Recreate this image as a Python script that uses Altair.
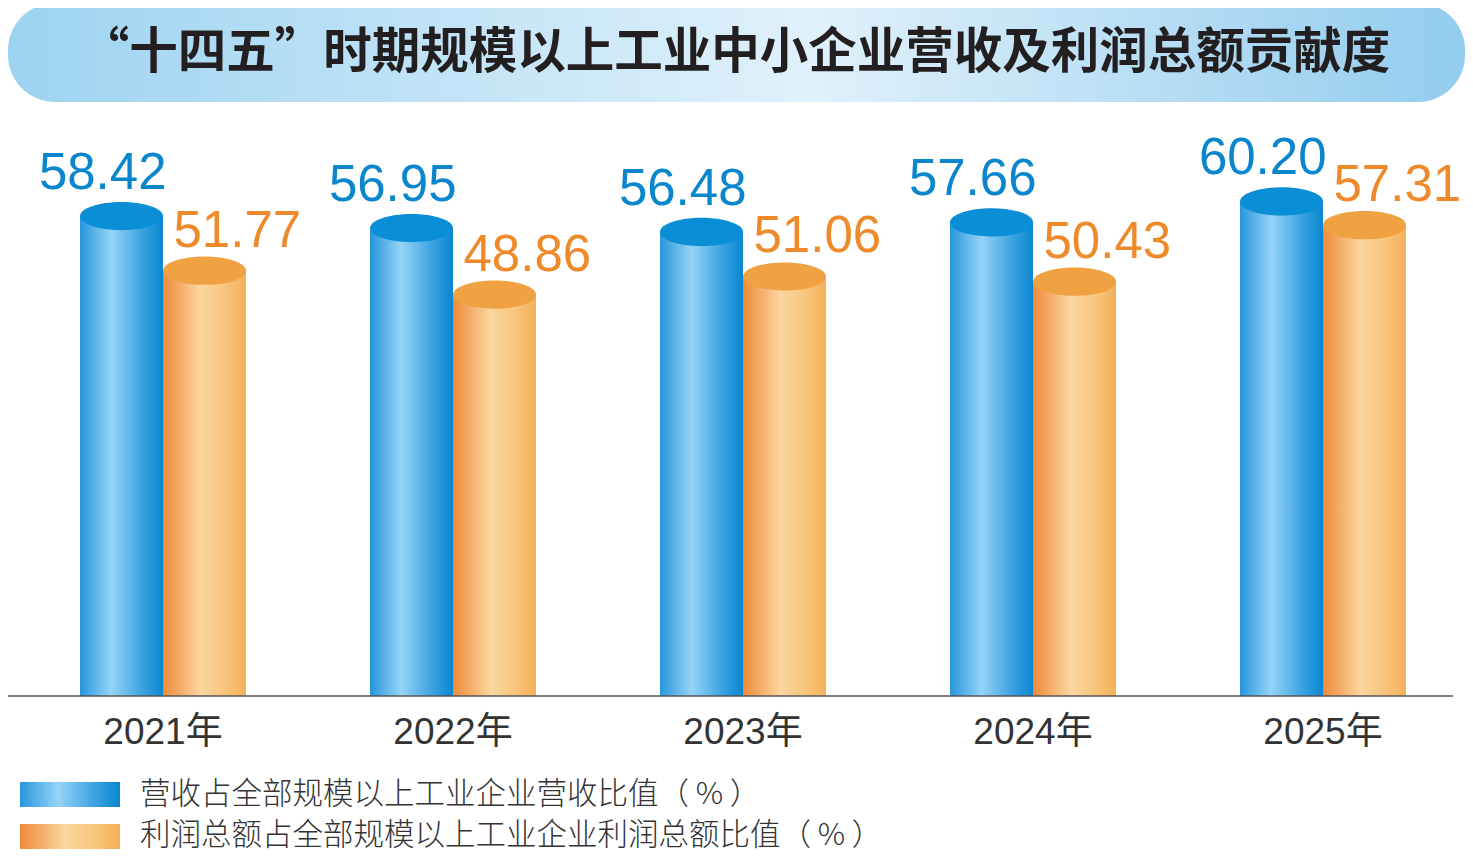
import altair as alt
import pandas as pd

# ---------------- data ----------------
title_text = "“十四五”时期规模以上工业中小企业营收及利润总额贡献度"
years = ["2021年", "2022年", "2023年", "2024年", "2025年"]
revenue = [58.42, 56.95, 56.48, 57.66, 60.20]
profit = [51.77, 48.86, 51.06, 50.43, 57.31]
series = ["营收占全部规模以上工业企业营收比值（ % ）",
          "利润总额占全部规模以上工业企业利润总额比值（ % ）"]

rows = []
for y, r, p in zip(years, revenue, profit):
    rows.append({"year": y, "series": series[0], "value": r})
    rows.append({"year": y, "series": series[1], "value": p})
df = pd.DataFrame(rows)
df_rev = df[df.series == series[0]]
df_prof = df[df.series == series[1]]
df_years = pd.DataFrame({"year": years})
df_title = pd.DataFrame({"t": [title_text]})
df_leg1 = pd.DataFrame({"s": [series[0]]})
df_leg2 = pd.DataFrame({"s": [series[1]]})

# ---------------- styles ----------------
W, H = 1457, 848
NUM_FONT = "Liberation Sans, Arial, Noto Sans CJK SC"
CJK_FONT = "Noto Sans CJK SC"


def grad(stops, horizontal=True):
    return alt.LinearGradient(
        gradient="linear",
        x1=0, x2=1 if horizontal else 0, y1=0, y2=0 if horizontal else 1,
        stops=[alt.GradientStop(offset=o, color=c) for o, c in stops],
    )


blue_grad = grad([(0, "#2696dd"), (0.38, "#96d4f6"), (0.75, "#3aa2e2"), (1, "#0a86d0")])
orange_grad = grad([(0, "#ee8a3a"), (0.45, "#fbd69f"), (0.75, "#f8c57c"), (1, "#f4b058")])
banner_grad = grad([(0, "#9dd3f1"), (0.55, "#e0f1fb"), (1, "#92ccee")])

k, r = 0.5523, 0.34
ellipse = (f"M -1 0 C -1 {-k*r:.4f} {-k:.4f} {-r} 0 {-r} "
           f"C {k:.4f} {-r} 1 {-k*r:.4f} 1 0 "
           f"C 1 {k*r:.4f} {k:.4f} {r} 0 {r} "
           f"C {-k:.4f} {r} -1 {k*r:.4f} -1 0 Z")

xscale = alt.Scale(domain=years, range=[10, 1460], paddingInner=0.4276, paddingOuter=0.2138)
yscale = alt.Scale(domain=[0, 70], range=[688, 688 - 70 * 8.216])
oscale = alt.Scale(domain=series, paddingInner=0, paddingOuter=0)

X = alt.X("year:N", scale=xscale, axis=None, sort=years)
XO = alt.XOffset("series:N", scale=oscale, sort=series)
Y = alt.Y("value:Q", scale=yscale, axis=None)

# ---------------- layers ----------------
banner = alt.Chart(df_title).mark_rect(cornerRadius=47, fill=banner_grad).encode(
    x=alt.value(0), x2=alt.value(W), y=alt.value(-5), y2=alt.value(94))
title = alt.Chart(df_title).mark_text(
    font=CJK_FONT, fontWeight="bold", fontSize=48.5, color="#231f20",
    align="center", baseline="middle").encode(
    x=alt.value(727.5), y=alt.value(45), text="t:N")

bar_rev = alt.Chart(df_rev).mark_bar(fill=blue_grad, strokeWidth=0).encode(
    x=X, xOffset=XO, y=Y, y2=alt.datum(0))
bar_prof = alt.Chart(df_prof).mark_bar(fill=orange_grad, strokeWidth=0).encode(
    x=X, xOffset=XO, y=Y, y2=alt.datum(0))
top_rev = alt.Chart(df_rev).mark_point(
    shape=ellipse, size=83 * 83, filled=True, fill="#0a8ed6", opacity=1, strokeWidth=0).encode(
    x=X, xOffset=XO, y=Y)
top_prof = alt.Chart(df_prof).mark_point(
    shape=ellipse, size=83 * 83, filled=True, fill="#f0a142", opacity=1, strokeWidth=0).encode(
    x=X, xOffset=XO, y=Y)

lab_rev = alt.Chart(df_rev).mark_text(
    font=NUM_FONT, fontSize=51, color="#0a86cc", align="right", baseline="alphabetic",
    dx=45, dy=-27).encode(x=X, xOffset=XO, y=Y, text=alt.Text("value:Q", format=".2f"))
lab_prof = alt.Chart(df_prof).mark_text(
    font=NUM_FONT, fontSize=51, color="#ee8a2a", align="left", baseline="alphabetic",
    dx=-31, dy=-24).encode(x=X, xOffset=XO, y=Y, text=alt.Text("value:Q", format=".2f"))

baseline = alt.Chart(df_title).mark_rule(color="#555555", strokeWidth=1.5).encode(
    x=alt.value(0), x2=alt.value(1445), y=alt.value(688))

xlabels = alt.Chart(df_years).mark_text(
    font=NUM_FONT, fontSize=37, color="#333333", align="center", baseline="middle").encode(
    x=X, y=alt.value(725), text="year:N")

leg_rect1 = alt.Chart(df_leg1).mark_rect(fill=blue_grad).encode(
    x=alt.value(12), x2=alt.value(112), y=alt.value(774), y2=alt.value(799))
leg_rect2 = alt.Chart(df_leg2).mark_rect(fill=orange_grad).encode(
    x=alt.value(12), x2=alt.value(112), y=alt.value(816), y2=alt.value(841))
leg_text1 = alt.Chart(df_leg1).mark_text(
    font=CJK_FONT, fontWeight=300, fontSize=30.5, color="#333333", align="left",
    baseline="middle").encode(x=alt.value(132), y=alt.value(787), text="s:N")
leg_text2 = alt.Chart(df_leg2).mark_text(
    font=CJK_FONT, fontWeight=300, fontSize=30.5, color="#333333", align="left",
    baseline="middle").encode(x=alt.value(132), y=alt.value(828), text="s:N")

chart = alt.layer(
    banner, title, bar_rev, bar_prof, top_rev, top_prof, lab_rev, lab_prof,
    baseline, xlabels, leg_rect1, leg_rect2, leg_text1, leg_text2,
).properties(
    width=W, height=H, autosize=alt.AutoSizeParams(type="none"), padding=0,
    background="white",
).configure_view(stroke=None)

chart.save("out.html", embed_options={"renderer": "svg", "actions": False})
